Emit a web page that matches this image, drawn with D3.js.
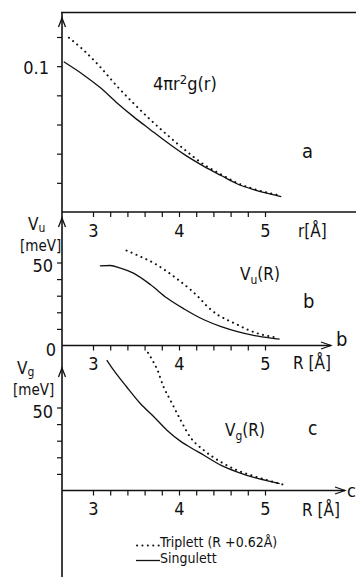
<!DOCTYPE html>
<html>
<head>
<meta charset="utf-8">
<script src="https://cdn.jsdelivr.net/npm/d3@7"></script>
<style>
body { margin: 0; background: #fff; }
text { font-family: "Liberation Sans Narrow", "DejaVu Sans Condensed", "Liberation Sans", sans-serif; fill: #111; }
</style>
</head>
<body>
<svg></svg>
<script>
var width = 356,
	height = 577;
var svg = d3.select("svg")
			.attr("width", width)
			.attr("height", height);

// panel a : 4 pi r^2 g(r)
var rSingA = [2.66, 2.89, 3.08, 3.28, 3.47, 3.67, 3.86, 4.06, 4.29, 4.49, 4.68, 4.88, 5.07, 5.19];
var gSingA = [0.103, 0.094, 0.0855, 0.0748, 0.0654, 0.0563, 0.0478, 0.0395, 0.0313, 0.025, 0.0192, 0.0152, 0.0122, 0.0105];
var rTripA = [2.72, 2.89, 3.08, 3.28, 3.47, 3.67, 3.86, 4.06, 4.29, 4.49, 4.68, 4.88, 5.07, 5.15];
var gTripA = [0.1195, 0.111, 0.0997, 0.0862, 0.0746, 0.0631, 0.053, 0.043, 0.0325, 0.0258, 0.0198, 0.0156, 0.0127, 0.0117];

// panel b : Vu(R) in meV
var rSingB = [3.08, 3.2, 3.32, 3.47, 3.67, 3.86, 4.06, 4.29, 4.49, 4.68, 4.88, 5.07, 5.17];
var vSingB = [48.0, 48.2, 46.6, 43.6, 36.6, 28.6, 22.0, 15.5, 11.4, 8.4, 6.0, 4.5, 3.9];
var rTripB = [3.39, 3.55, 3.71, 3.86, 3.98, 4.13, 4.22, 4.33, 4.45, 4.57, 4.68, 4.8, 4.96, 5.15];
var vTripB = [57.2, 53.6, 49.6, 44.6, 40.0, 33.8, 29.5, 23.5, 18.5, 15.2, 12.5, 9.5, 6.6, 4.8];

// panel c : Vg(R) in meV
var rSingC = [3.16, 3.24, 3.39, 3.55, 3.71, 3.86, 4.02, 4.1, 4.29, 4.49, 4.68, 4.88, 5.07, 5.17];
var vSingC = [78.6, 72.5, 62.5, 52.4, 44.3, 36.3, 29.6, 27.0, 21.2, 15.1, 11.1, 7.7, 5.4, 4.2];
var rTripC = [3.64, 3.69, 3.75, 3.82, 3.9, 4.02, 4.13, 4.29, 4.49, 4.68, 4.88, 5.07, 5.25];
var vTripC = [83.0, 78.6, 72.5, 62.5, 54.4, 42.3, 32.2, 24.2, 17.1, 12.1, 8.5, 5.6, 3.0];

var xTicks = [3, 3.2, 3.4, 3.6, 3.8, 4, 4.2, 4.4, 4.6, 4.8, 5];
var xTickLabels = ["3", "4", "5"];
var yTicksA = [0.02, 0.04, 0.06, 0.08, 0.1, 0.12];
var yTicksV = [10, 20, 30, 40, 50];

var axisX = 62;
var x = d3.scaleLinear().domain([3, 5]).range([93, 265]);
var yA = d3.scaleLinear().domain([0, 0.12]).range([212, 37]);
var yB = d3.scaleLinear().domain([0, 50]).range([345.5, 262.5]);
var yC = d3.scaleLinear().domain([0, 50]).range([490.5, 407.5]);

function ink(sel, w) {
	return sel.attr("stroke", "#111").attr("stroke-width", w).attr("fill", "none");
}

// frame + common vertical axis
ink(svg.append("path").attr("d", "M61,12.5H356"), 1.3);
ink(svg.append("path").attr("d", "M" + axisX + ",12V577"), 1.6);

// x axes
function xAxis(y0, xEnd, arrow) {
	var g = svg.append("g").attr("transform", "translate(0," + y0 + ")");
	g.call(d3.axisBottom(x).tickValues(xTicks).tickSize(5).tickPadding(7)
		.tickFormat(function(d) {
			var i = xTickLabels.indexOf(String(d));
			return i >= 0 ? xTickLabels[i] : "";
		}));
	g.select(".domain").remove();
	g.selectAll(".tick line").attr("stroke", "#111").attr("stroke-width", 1.2);
	g.selectAll(".tick text").attr("font-size", 18).attr("font-family", null).attr("fill", "#111");
	ink(g.append("path").attr("d", "M" + axisX + ",0H" + xEnd), 1.3);
	if (arrow) {
		ink(g.append("path").attr("d", "M" + (xEnd - 10) + ",-3.5L" + xEnd + ",0L" + (xEnd - 10) + ",3.5"), 1.2);
	}
	return g;
}
xAxis(yA(0), 356, false);
xAxis(yB(0), 331, true);
xAxis(yC(0), 345, true);

// y axes
function yAxis(scale, ticks) {
	var g = svg.append("g").attr("transform", "translate(" + axisX + ",0)");
	g.call(d3.axisLeft(scale).tickValues(ticks).tickSize(5).tickFormat(""));
	g.select(".domain").remove();
	g.selectAll(".tick line").attr("stroke", "#111").attr("stroke-width", 1.2);
}
yAxis(yA, yTicksA);
yAxis(yB, yTicksV);
yAxis(yC, yTicksV);

// arrow heads on the vertical axis
[18, 218, 368].forEach(function(t) {
	ink(svg.append("path").attr("d", "M" + (axisX - 3.5) + "," + (t + 9) + "L" + axisX + "," + t + "L" + (axisX + 3.5) + "," + (t + 9)), 1.3);
});

// curves
function curve(rs, vs, scale, dotted) {
	var pts = rs.map(function(r, i) { return [x(r), scale(vs[i])]; });
	var line = d3.line().curve(d3.curveMonotoneX);
	var p = ink(svg.append("path").attr("d", line(pts)), dotted ? 2 : 1.3);
	if (dotted) p.attr("stroke-dasharray", "0.1 5.3").attr("stroke-linecap", "round");
}
curve(rSingA, gSingA, yA, false);
curve(rTripA, gTripA, yA, true);
curve(rSingB, vSingB, yB, false);
curve(rTripB, vTripB, yB, true);
curve(rSingC, vSingC, yC, false);
curve(rTripC, vTripC, yC, true);

// texts
function label(px, py, s, size, anchor) {
	return svg.append("text").attr("x", px).attr("y", py)
		.attr("font-size", size).attr("text-anchor", anchor || "start").text(s);
}
label(49, yA(0.1) + 8, "0.1", 18, "end");
label(53, yB(50) + 9.5, "50", 18, "end");
label(56, yB(0) + 10, "0", 18, "end");
label(53, yC(50) + 10, "50", 18, "end");

label(298, yA(0) + 24.5, "r[Å]", 17);
label(293, yB(0) + 23.5, "R [Å]", 17);
label(302, yC(0) + 25.5, "R [Å]", 17);

label(302, 158, "a", 20);
label(303, 308, "b", 20);
label(308, 435, "c", 19);
label(336, yB(0), "b", 20);
label(347, yC(0) + 6, "c", 18);

// 4 pi r^2 g(r)
var t1 = label(153, 90, "4πr", 18);
t1.append("tspan").attr("font-size", 13).attr("dy", -6).text("2");
t1.append("tspan").attr("dy", 6).text("g(r)");

// Vu(R), Vg(R)
var t2 = label(240, 280, "V", 17);
t2.append("tspan").attr("font-size", 12).attr("dy", 4).text("u");
t2.append("tspan").attr("dy", -4).text("(R)");
var t3 = label(225, 436, "V", 17);
t3.append("tspan").attr("font-size", 12).attr("dy", 4).text("g");
t3.append("tspan").attr("dy", -4).text("(R)");

// axis titles
var t4 = label(28, 230, "V", 17);
t4.append("tspan").attr("font-size", 12).attr("dy", 2).text("u");
label(20, 251, "[meV]", 15);
var t5 = label(17, 374, "V", 17);
t5.append("tspan").attr("font-size", 12).attr("dy", 2).text("g");
label(13, 395, "[meV]", 15);

// legend
ink(svg.append("path").attr("d", "M137,545.5H159"), 2)
	.attr("stroke-dasharray", "0.1 5.3").attr("stroke-linecap", "round");
label(160, 547, "Triplett  (R +0.62Å)", 14);
ink(svg.append("path").attr("d", "M136,560.5H160"), 1.3);
label(160, 563, "Singulett", 14);
</script>
</body>
</html>
